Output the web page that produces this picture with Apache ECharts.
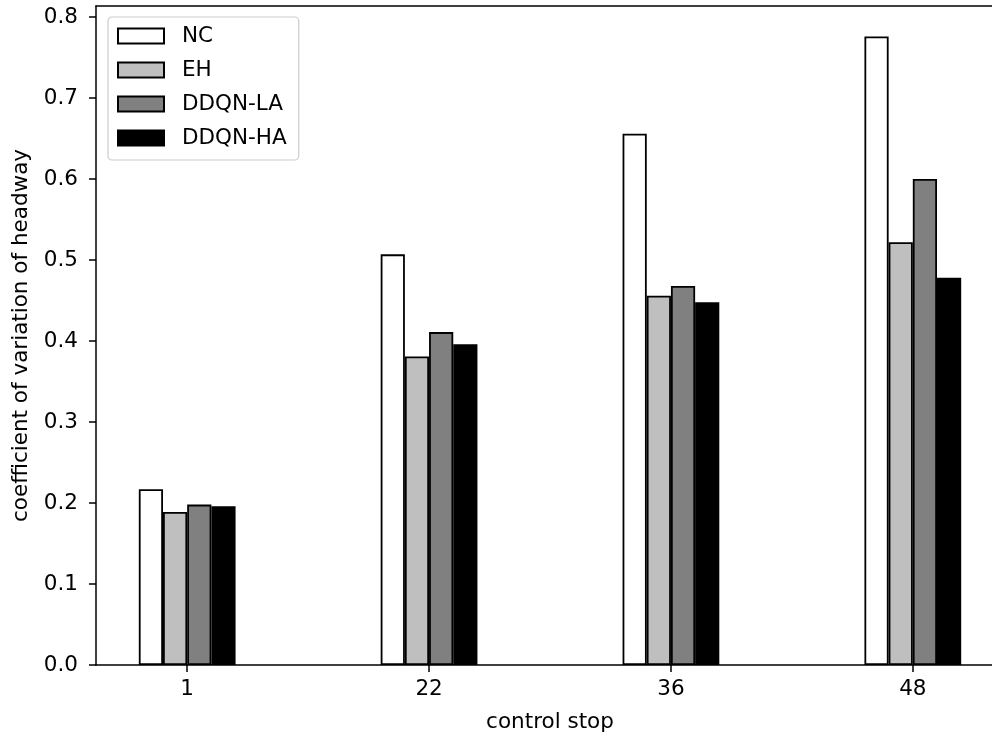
<!DOCTYPE html>
<html>
<head>
<meta charset="utf-8">
<title>Coefficient of variation of headway</title>
<script src="https://cdn.jsdelivr.net/npm/echarts@6/dist/echarts.min.js"></script>
<style>
  html, body { margin: 0; padding: 0; background: #ffffff; }
  #chart { width: 992px; height: 736px; }
</style>
</head>
<body>
<div id="chart"></div>
<script>
// Control stops on the x axis (placed at positions 0..3)
const stops = ['1', '22', '36', '48'];
// Coefficient of variation of headway per strategy
const nc     = [0.217, 0.507, 0.656, 0.776];
const eh     = [0.189, 0.381, 0.456, 0.522];
const ddqnLA = [0.198, 0.411, 0.468, 0.600];
const ddqnHA = [0.196, 0.396, 0.448, 0.478];
// Y tick positions
const yTicks = [0, 0.1, 0.2, 0.3, 0.4, 0.5, 0.6, 0.7, 0.8];

const seriesDefs = [
  { name: 'NC',      values: nc,     color: '#ffffff' },
  { name: 'EH',      values: eh,     color: '#bfbfbf' },
  { name: 'DDQN-LA', values: ddqnLA, color: '#808080' },
  { name: 'DDQN-HA', values: ddqnHA, color: '#000000' }
];

const FONT = 'DejaVu Sans';
const FS = 21.5;
const xPositions = stops.map((_, i) => i);

const chart = echarts.init(document.getElementById('chart'), null, { renderer: 'canvas' });

chart.setOption({
  animation: false,
  backgroundColor: '#ffffff',
  textStyle: { fontFamily: FONT, color: '#000000' },
  grid: {
    left: 96,
    top: 6,
    width: 908,
    height: 659,
    outerBoundsMode: 'none'
  },
  legend: {
    left: 108,
    top: 17,
    orient: 'vertical',
    itemWidth: 46,
    itemHeight: 15,
    itemGap: 12,
    padding: [8, 12, 11, 9],
    borderColor: '#cccccc',
    borderWidth: 1.2,
    borderRadius: 4,
    backgroundColor: 'rgba(255,255,255,0.8)',
    icon: 'rect',
    textStyle: { fontFamily: FONT, fontSize: FS, color: '#000000', padding: [0, 0, 0, 13] },
    data: seriesDefs.map(s => s.name)
  },
  xAxis: [
    {
      type: 'value',
      min: -0.377,
      max: 3.377,
      name: 'control stop',
      nameLocation: 'middle',
      nameGap: 46,
      nameTextStyle: { fontFamily: FONT, fontSize: FS, color: '#000000' },
      axisLine: { show: true, onZero: false, lineStyle: { color: '#000000', width: 1.5 } },
      axisTick: { show: true, length: 7, customValues: xPositions, lineStyle: { color: '#000000', width: 1.5 } },
      axisLabel: {
        customValues: xPositions,
        formatter: v => stops[Math.round(v)],
        fontFamily: FONT, fontSize: FS, color: '#000000', margin: 13
      },
      splitLine: { show: false }
    },
    {
      type: 'value',
      position: 'top',
      min: -0.377,
      max: 3.377,
      axisLine: { show: true, onZero: false, lineStyle: { color: '#000000', width: 1.5 } },
      axisTick: { show: false },
      axisLabel: { show: false },
      splitLine: { show: false }
    }
  ],
  yAxis: {
    type: 'value',
    min: 0,
    max: 0.8136,
    name: 'coefficient of variation of headway',
    nameLocation: 'middle',
    nameGap: 62,
    nameRotate: 90,
    nameTextStyle: { fontFamily: FONT, fontSize: FS, color: '#000000' },
    axisLine: { show: true, onZero: false, lineStyle: { color: '#000000', width: 1.5 } },
    axisTick: { show: true, length: 7, customValues: yTicks, lineStyle: { color: '#000000', width: 1.5 } },
    axisLabel: {
      customValues: yTicks,
      formatter: v => v.toFixed(1),
      fontFamily: FONT, fontSize: FS, color: '#000000', margin: 18
    },
    splitLine: { show: false }
  },
  series: seriesDefs.map(s => ({
    name: s.name,
    type: 'bar',
    xAxisIndex: 0,
    barWidth: '10%',
    barGap: '0%',
    itemStyle: { color: s.color, borderColor: '#000000', borderWidth: 1.8 },
    data: s.values.map((v, i) => [i, v])
  }))
});
</script>
</body>
</html>
